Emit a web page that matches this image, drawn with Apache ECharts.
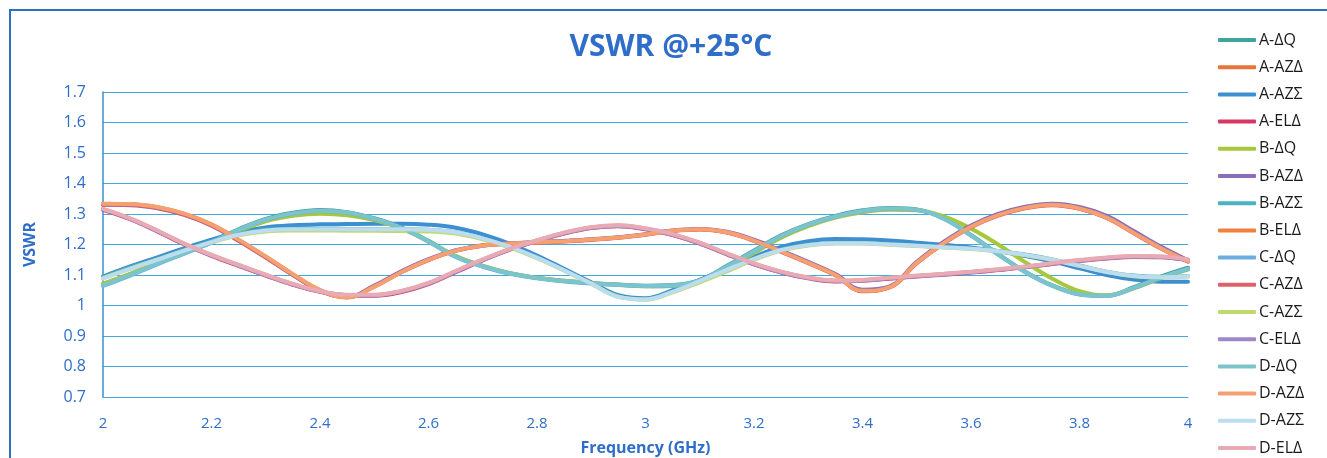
<!DOCTYPE html>
<html><head><meta charset="utf-8">
<script src="https://cdn.jsdelivr.net/npm/echarts@6/dist/echarts.min.js"></script>
<style>html,body{margin:0;padding:0;background:#fff}#c{width:1327px;height:458px}</style>
</head><body><div id="c"></div>
<script>
const freq = [2.00,2.05,2.10,2.15,2.20,2.25,2.30,2.35,2.40,2.45,2.50,2.55,2.60,2.65,2.70,2.75,2.80,2.85,2.90,2.95,3.00,3.05,3.10,3.15,3.20,3.25,3.30,3.35,3.40,3.45,3.50,3.55,3.60,3.65,3.70,3.75,3.80,3.85,3.90,3.95,4.00];
const yTicks = [0.7,0.8,0.9,1,1.1,1.2,1.3,1.4,1.5,1.6,1.7];
const xTicks = [2,2.2,2.4,2.6,2.8,3,3.2,3.4,3.6,3.8,4];

const A_dQ  = [1.070,1.103,1.140,1.175,1.210,1.250,1.284,1.304,1.313,1.306,1.286,1.256,1.212,1.162,1.130,1.106,1.091,1.081,1.074,1.069,1.065,1.067,1.083,1.130,1.180,1.230,1.267,1.294,1.312,1.320,1.315,1.286,1.231,1.169,1.111,1.066,1.038,1.033,1.060,1.095,1.124];
const A_AZd = [1.333,1.332,1.322,1.300,1.265,1.215,1.160,1.102,1.050,1.027,1.063,1.110,1.150,1.180,1.197,1.203,1.207,1.211,1.216,1.223,1.233,1.245,1.250,1.240,1.213,1.177,1.140,1.100,1.048,1.060,1.140,1.205,1.258,1.296,1.320,1.330,1.318,1.288,1.238,1.188,1.145];
const A_AZS = [1.095,1.128,1.158,1.188,1.216,1.240,1.256,1.263,1.266,1.267,1.268,1.268,1.265,1.255,1.233,1.202,1.164,1.120,1.076,1.034,1.024,1.050,1.084,1.122,1.160,1.192,1.211,1.218,1.217,1.213,1.206,1.199,1.190,1.178,1.162,1.144,1.122,1.100,1.085,1.078,1.078];
const A_ELd = [1.314,1.283,1.243,1.200,1.163,1.130,1.098,1.068,1.045,1.033,1.032,1.044,1.070,1.109,1.148,1.183,1.211,1.236,1.254,1.260,1.250,1.231,1.203,1.168,1.135,1.108,1.089,1.079,1.081,1.088,1.095,1.101,1.108,1.116,1.125,1.136,1.146,1.154,1.159,1.158,1.148];
const B_dQ  = [1.072,1.104,1.140,1.173,1.206,1.244,1.276,1.294,1.301,1.296,1.280,1.252,1.210,1.162,1.130,1.106,1.091,1.081,1.073,1.068,1.063,1.064,1.078,1.122,1.172,1.222,1.260,1.288,1.306,1.314,1.312,1.292,1.252,1.200,1.142,1.088,1.047,1.033,1.056,1.090,1.118];
const B_AZd = [1.330,1.329,1.319,1.297,1.262,1.212,1.157,1.100,1.049,1.028,1.065,1.112,1.152,1.181,1.198,1.204,1.208,1.212,1.217,1.224,1.234,1.246,1.251,1.242,1.216,1.180,1.143,1.103,1.052,1.063,1.143,1.209,1.262,1.300,1.324,1.334,1.323,1.294,1.244,1.193,1.148];
const B_AZS = [1.092,1.124,1.152,1.182,1.210,1.234,1.248,1.252,1.252,1.251,1.251,1.250,1.248,1.240,1.220,1.192,1.157,1.116,1.073,1.030,1.021,1.046,1.080,1.117,1.154,1.183,1.199,1.205,1.205,1.201,1.197,1.192,1.187,1.179,1.167,1.151,1.131,1.111,1.098,1.094,1.097];
const B_ELd = [1.316,1.285,1.245,1.202,1.165,1.132,1.100,1.070,1.046,1.034,1.034,1.047,1.073,1.112,1.150,1.185,1.213,1.238,1.256,1.262,1.252,1.233,1.205,1.170,1.137,1.110,1.091,1.081,1.083,1.090,1.097,1.103,1.110,1.118,1.127,1.138,1.148,1.156,1.161,1.160,1.150];
const C_dQ  = [1.064,1.098,1.135,1.170,1.206,1.247,1.281,1.301,1.310,1.304,1.284,1.254,1.209,1.159,1.127,1.104,1.089,1.079,1.072,1.067,1.063,1.065,1.081,1.127,1.177,1.227,1.264,1.291,1.309,1.317,1.313,1.284,1.229,1.167,1.109,1.064,1.036,1.031,1.057,1.091,1.119];
const C_AZd = [1.331,1.330,1.320,1.298,1.263,1.213,1.158,1.101,1.049,1.027,1.062,1.109,1.149,1.179,1.196,1.202,1.206,1.210,1.215,1.222,1.232,1.244,1.249,1.239,1.212,1.176,1.139,1.099,1.047,1.059,1.139,1.204,1.257,1.295,1.319,1.329,1.317,1.287,1.237,1.187,1.144];
const C_AZS = [1.090,1.121,1.150,1.180,1.207,1.230,1.243,1.246,1.246,1.245,1.245,1.244,1.243,1.236,1.217,1.190,1.155,1.114,1.071,1.029,1.019,1.043,1.076,1.112,1.150,1.180,1.197,1.203,1.203,1.199,1.195,1.190,1.185,1.177,1.165,1.150,1.130,1.110,1.096,1.092,1.095];
const C_ELd = [1.315,1.284,1.244,1.201,1.164,1.131,1.099,1.069,1.046,1.034,1.033,1.046,1.072,1.111,1.149,1.184,1.212,1.237,1.255,1.261,1.251,1.232,1.204,1.169,1.136,1.109,1.090,1.080,1.082,1.089,1.096,1.102,1.109,1.117,1.126,1.137,1.147,1.155,1.160,1.159,1.149];
const D_dQ  = [1.066,1.100,1.137,1.172,1.208,1.248,1.282,1.302,1.311,1.305,1.285,1.255,1.210,1.160,1.128,1.105,1.090,1.080,1.073,1.068,1.064,1.066,1.082,1.128,1.178,1.228,1.265,1.292,1.310,1.318,1.314,1.285,1.230,1.168,1.110,1.065,1.037,1.032,1.058,1.092,1.120];
const D_AZd = [1.334,1.333,1.323,1.301,1.266,1.216,1.161,1.103,1.051,1.026,1.062,1.109,1.150,1.180,1.197,1.203,1.207,1.211,1.216,1.223,1.233,1.245,1.250,1.240,1.213,1.177,1.140,1.100,1.048,1.060,1.140,1.205,1.258,1.296,1.320,1.330,1.318,1.288,1.238,1.188,1.145];
const D_AZS = [1.088,1.120,1.150,1.180,1.208,1.232,1.246,1.250,1.250,1.250,1.250,1.250,1.248,1.240,1.220,1.192,1.157,1.115,1.072,1.028,1.020,1.045,1.080,1.117,1.153,1.182,1.198,1.204,1.204,1.200,1.196,1.191,1.186,1.178,1.166,1.150,1.130,1.110,1.097,1.093,1.096];
const D_ELd = [1.317,1.286,1.246,1.203,1.166,1.133,1.101,1.071,1.047,1.035,1.035,1.048,1.074,1.113,1.151,1.186,1.214,1.239,1.257,1.263,1.253,1.234,1.206,1.171,1.138,1.111,1.092,1.082,1.084,1.091,1.098,1.104,1.111,1.119,1.128,1.139,1.149,1.157,1.162,1.161,1.151];

const seriesNames = ['A-ΔQ','A-AZΔ','A-AZΣ','A-ELΔ','B-ΔQ','B-AZΔ','B-AZΣ','B-ELΔ','C-ΔQ','C-AZΔ','C-AZΣ','C-ELΔ','D-ΔQ','D-AZΔ','D-AZΣ','D-ELΔ'];
const seriesValues = [A_dQ,A_AZd,A_AZS,A_ELd,B_dQ,B_AZd,B_AZS,B_ELd,C_dQ,C_AZd,C_AZS,C_ELd,D_dQ,D_AZd,D_AZS,D_ELd];
const seriesColors = ['#3fa3a0','#e8743b','#3d8fd0','#d63864','#a6c83c','#8a6cb8','#4bb3c0','#f0803c','#6aaee0','#e0606a','#c0d870','#9f88c8','#7cc4cc','#f5a070','#bcdcf0','#e8aab4'];

const blue = '#2e6ec8';
const chart = echarts.init(document.getElementById('c'));
chart.setOption({
  animation: false,
  backgroundColor: '#fff',
  graphic: [{type:'rect', shape:{x:10,y:10,width:1340,height:470}, style:{fill:'none', stroke:'#2f6fc0', lineWidth:2}}],
  title: {text:'VSWR @+25°C', left: 666, top: 27, textAlign:'center',
    textStyle:{fontFamily:'Open Sans', fontWeight:'bold', fontSize:30, color: blue}},
  legend: {orient:'vertical', left:1218, top:32, padding:0, itemWidth:38, itemHeight:4, itemGap:11.2,
    icon:'roundRect',
    data: seriesNames, textStyle:{fontFamily:'Open Sans', fontSize:16, lineHeight:16, color:'#1a1a1a', padding:[0,0,0,-2]}},
  grid: {left:103, right:139, top:92, bottom:61, outerBoundsMode:'none', containLabel:false},
  xAxis: {type:'value', min:2, max:4, interval:0.2,
    name:'Frequency (GHz)', nameLocation:'middle', nameGap:43,
    nameTextStyle:{fontFamily:'Open Sans', fontWeight:'bold', fontSize:16, color: blue},
    axisLine:{show:true, lineStyle:{color:'#45a8dc', width:1.2}}, axisTick:{show:false},
    splitLine:{show:false},
    axisLabel:{margin:19, fontFamily:'Open Sans', fontSize:15, color: blue,
      formatter: v => { const t = xTicks.find(k => Math.abs(k - v) < 1e-6); return t === undefined ? '' : String(t); }}},
  yAxis: {type:'value', min:0.7, max:1.7, interval:0.1,
    name:'VSWR', nameLocation:'middle', nameGap:65, nameRotate:90,
    nameTextStyle:{fontFamily:'Open Sans', fontWeight:'bold', fontSize:16, color: blue},
    axisLine:{show:true, lineStyle:{color:'#3a8fd0', width:1.5}}, axisTick:{show:false},
    splitLine:{show:true, lineStyle:{color:'#45a8dc', width:1.2}},
    axisLabel:{margin:17, fontFamily:'Open Sans', fontSize:16, color: blue,
      formatter: v => { const t = yTicks.find(k => Math.abs(k - v) < 1e-6); return t === undefined ? '' : String(t); }}},
  series: seriesNames.map((n, i) => ({
    name: n, type:'line', smooth:0.4, symbol:'none',
    data: freq.map((f, j) => [f, seriesValues[i][j]]),
    lineStyle:{width:4, color: seriesColors[i], cap:'round'},
    itemStyle:{color: seriesColors[i]}
  }))
});
</script></body></html>
